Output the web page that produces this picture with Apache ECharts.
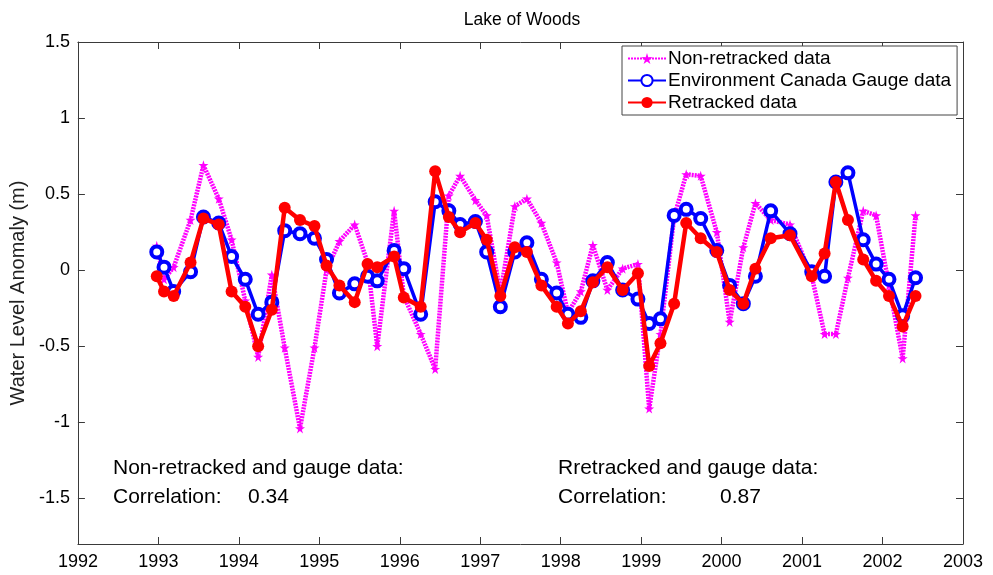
<!DOCTYPE html>
<html>
<head>
<meta charset="utf-8">
<title>Lake of Woods</title>
<script src="https://cdn.jsdelivr.net/npm/echarts@6/dist/echarts.min.js"></script>
<style>
html, body { margin: 0; padding: 0; background: #fff; }
#chart { width: 993px; height: 575px; }
</style>
</head>
<body>
<div id="chart"></div>
<script>
// sample times (decimal years), shared by all three series
const years = [1992.98, 1993.07, 1993.19, 1993.40, 1993.56, 1993.75, 1993.91, 1994.08, 1994.24, 1994.41,
    1994.57, 1994.76, 1994.94, 1995.09, 1995.25, 1995.44, 1995.60, 1995.72, 1995.93, 1996.05,
    1996.26, 1996.44, 1996.61, 1996.75, 1996.94, 1997.08, 1997.25, 1997.43, 1997.58, 1997.76,
    1997.95, 1998.09, 1998.25, 1998.40, 1998.58, 1998.77, 1998.96, 1999.10, 1999.24, 1999.41,
    1999.56, 1999.74, 1999.94, 2000.10, 2000.27, 2000.42, 2000.61, 2000.85, 2001.12, 2001.28,
    2001.42, 2001.57, 2001.76, 2001.92, 2002.08, 2002.25, 2002.41];

const nonRetracked = [0.16, -0.06, 0.02, 0.33, 0.69, 0.47, 0.20, -0.20, -0.57, -0.03,
    -0.51, -1.04, -0.51, 0.00, 0.19, 0.30, 0.05, -0.50, 0.39, -0.17,
    -0.42, -0.65, 0.49, 0.62, 0.46, 0.36, -0.15, 0.42, 0.47, 0.31,
    0.05, -0.28, -0.14, 0.165, -0.13, 0.01, 0.04, -0.91, -0.42, 0.35,
    0.63, 0.62, 0.25, -0.34, 0.15, 0.44, 0.33, 0.30, -0.04, -0.42,
    -0.42, -0.05, 0.39, 0.36, -0.10, -0.58, 0.36];

const gauge = [0.12, 0.02, -0.14, -0.01, 0.35, 0.31, 0.09, -0.06, -0.29, -0.21,
    0.26, 0.24, 0.21, 0.07, -0.15, -0.09, -0.04, -0.07, 0.13, 0.01,
    -0.29, 0.45, 0.39, 0.30, 0.32, 0.12, -0.24, 0.12, 0.18, -0.06,
    -0.15, -0.29, -0.31, -0.07, 0.05, -0.13, -0.19, -0.35, -0.32, 0.36,
    0.40, 0.34, 0.13, -0.10, -0.22, -0.04, 0.39, 0.24, -0.01, -0.04,
    0.58, 0.64, 0.20, 0.04, -0.06, -0.30, -0.05];

const retracked = [-0.04, -0.14, -0.17, 0.05, 0.34, 0.30, -0.14, -0.24, -0.50, -0.26,
    0.41, 0.33, 0.29, 0.03, -0.10, -0.21, 0.04, 0.02, 0.09, -0.18,
    -0.24, 0.65, 0.35, 0.25, 0.31, 0.20, -0.17, 0.15, 0.12, -0.10,
    -0.24, -0.35, -0.27, -0.08, 0.02, -0.13, -0.02, -0.63, -0.48, -0.22,
    0.31, 0.21, 0.12, -0.13, -0.22, 0.01, 0.21, 0.23, -0.04, 0.11,
    0.58, 0.33, 0.07, -0.07, -0.17, -0.37, -0.17];

const yTicks = [-1.5, -1, -0.5, 0, 0.5, 1, 1.5];

const seriesNames = ['Non-retracked data', 'Environment Canada Gauge data', 'Retracked data'];

const fontFamily = '"Liberation Sans", Arial, Helvetica, sans-serif';
const frameColor = '#3a3a3a';
const star = 'path://M50,0 L61,35 L98,35 L68,57 L79,91 L50,70 L21,91 L32,57 L2,35 L39,35 Z';

function pairs(vals) {
    return years.map((y, i) => [y, vals[i]]);
}

const chart = echarts.init(document.getElementById('chart'));

const xBase = {
    type: 'value',
    min: 1992,
    max: 2003,
    interval: 1,
    axisLine: { show: true, onZero: false, lineStyle: { color: frameColor, width: 1 } },
    axisTick: { show: true, inside: true, length: 7, lineStyle: { color: frameColor } },
    splitLine: { show: false }
};
const yBase = {
    type: 'value',
    min: -1.8,
    max: 1.5,
    axisLine: { show: true, onZero: false, lineStyle: { color: frameColor, width: 1 } },
    axisTick: { show: true, inside: true, length: 7, customValues: yTicks, lineStyle: { color: frameColor } },
    splitLine: { show: false }
};

const textFont = '21px ' + fontFamily;

const option = {
    backgroundColor: '#fff',
    animation: false,
    title: {
        text: 'Lake of Woods',
        left: 517,
        textAlign: 'center',
        top: 6,
        textStyle: { fontFamily: fontFamily, fontSize: 17.5, fontWeight: 'normal', color: '#000' }
    },
    grid: { left: 72, right: 30, top: 42, bottom: 31, containLabel: false },
    legend: {
        data: seriesNames,
        orient: 'vertical',
        left: 622,
        top: 46,
        itemWidth: 38,
        itemHeight: 14,
        itemGap: 3,
        padding: [3, 6, 3, 5],
        backgroundColor: '#fff',
        borderColor: '#444',
        borderWidth: 1,
        textStyle: { fontFamily: fontFamily, fontSize: 19, color: '#000', padding: [0, 0, 0, -3] }
    },
    xAxis: [
        Object.assign({}, xBase, {
            position: 'bottom',
            axisLabel: {
                show: true, margin: 9, fontFamily: fontFamily, fontSize: 18, color: '#000',
                formatter: v => String(v)
            }
        }),
        Object.assign({}, xBase, { position: 'top', axisLabel: { show: false } })
    ],
    yAxis: [
        Object.assign({}, yBase, {
            position: 'left',
            name: 'Water Level Anomaly (m)',
            nameLocation: 'middle',
            nameGap: 46,
            nameTextStyle: { fontFamily: fontFamily, fontSize: 20, color: '#222' },
            axisLabel: {
                show: true, margin: 8, customValues: yTicks,
                fontFamily: fontFamily, fontSize: 18, color: '#000'
            }
        }),
        Object.assign({}, yBase, { position: 'right', axisLabel: { show: false } })
    ],
    series: [
        {
            name: seriesNames[0],
            type: 'line',
            data: pairs(nonRetracked),
            symbol: star,
            symbolSize: 10,
            lineStyle: { color: '#ff00ff', width: 4.5, type: [2, 1] },
            itemStyle: { color: '#ff00ff' },
            z: 2
        },
        {
            name: seriesNames[1],
            type: 'line',
            data: pairs(gauge),
            symbol: 'circle',
            symbolSize: 11,
            lineStyle: { color: '#0000ff', width: 3.5 },
            itemStyle: { color: '#ffffff', borderColor: '#0000ff', borderWidth: 4 },
            z: 3
        },
        {
            name: seriesNames[2],
            type: 'line',
            data: pairs(retracked),
            symbol: 'circle',
            symbolSize: 12,
            lineStyle: { color: '#ff0000', width: 4.5 },
            itemStyle: { color: '#ff0000' },
            z: 4
        }
    ],
    graphic: [
        { type: 'text', left: 113, top: 458, style: { text: 'Non-retracked and gauge data:', font: textFont, fill: '#000' } },
        { type: 'text', left: 113, top: 487, style: { text: 'Correlation:', font: textFont, fill: '#000' } },
        { type: 'text', left: 248, top: 487, style: { text: '0.34', font: textFont, fill: '#000' } },
        { type: 'text', left: 558, top: 458, style: { text: 'Rretracked and gauge data:', font: textFont, fill: '#000' } },
        { type: 'text', left: 558, top: 487, style: { text: 'Correlation:', font: textFont, fill: '#000' } },
        { type: 'text', left: 720, top: 487, style: { text: '0.87', font: textFont, fill: '#000' } }
    ]
};

chart.setOption(option);
</script>
</body>
</html>
